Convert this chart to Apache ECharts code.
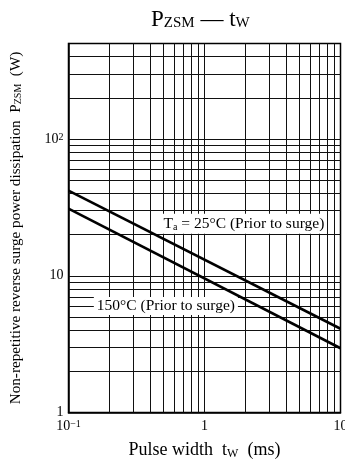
<!DOCTYPE html>
<html><head><meta charset="utf-8">
<script src="https://cdn.jsdelivr.net/npm/echarts@6/dist/echarts.min.js"></script>
<style>html,body{margin:0;padding:0;background:#fff}#c{width:345px;height:466px}</style>
</head><body><div id="c"></div>
<script>
// ---- data ----
const pulseWidth = [0.1, 10];            // ms
const psm25 = [42, 4.1];                 // W, Ta = 25°C
const psm150 = [31, 2.95];               // W, 150°C
const xGridValues = [0.2,0.3,0.4,0.5,0.6,0.7,0.8,0.9,1,2,3,4,5,6,7,8,9];
const yGridValues = [2,3,4,5,6,7,8,9,10,20,30,40,50,60,70,80,90,100,200,300,400];
const xTickLabels = {"0.1":"10{sup|−1}","1":"1","10":"10"};
const yTickLabels = {"1":"1","10":"10","100":"10{sup|2}"};

const FONT = 'Liberation Serif';
const chart = echarts.init(document.getElementById('c'));

function keyOf(v){
  const e = Math.log10(v);
  if (Math.abs(e - Math.round(e)) > 1e-6) return null;
  return String(Math.pow(10, Math.round(e)) >= 1 ? Math.pow(10, Math.round(e)) : 0.1);
}
const supRich = {sup:{fontSize:10, verticalAlign:'top', lineHeight:10, fontFamily:FONT, color:'#000', padding:[0,0,6,0]}};
const subStyle = (fs, pad)=>({fontSize:fs, fontFamily:FONT, color:'#000', verticalAlign:'bottom', lineHeight:fs, padding:[pad,0,0,0]});

const gridLineStyle = {color:'#111', width:1, type:'solid'};

chart.setOption({
  animation:false,
  backgroundColor:'#fff',
  title:{
    left:146, top:1,
    text:'{p|P}{s|ZSM}{p| — t}{s|W}',
    textStyle:{fontWeight:'normal', rich:{
      p:{fontSize:23, fontFamily:FONT, color:'#000', lineHeight:28, fontWeight:'normal'},
      s:{fontSize:15, fontFamily:FONT, color:'#000', lineHeight:15, padding:[7,0,0,0], fontWeight:'normal'}
    }}
  },
  grid:{left:68.5, right:4.5, top:43.5, bottom:53.5, show:true, borderColor:'#000', borderWidth:1.5, outerBoundsMode:'none', containLabel:false},
  xAxis:{
    type:'log', logBase:10, min:0.1, max:10,
    axisLine:{show:true, lineStyle:{color:'#000', width:1.5}},
    axisTick:{show:false}, splitLine:{show:false}, minorSplitLine:{show:false},
    axisLabel:{
      margin:7, color:'#000', fontFamily:FONT, fontSize:14,
      formatter:(v)=>{const k=keyOf(v); return k && xTickLabels[k] ? xTickLabels[k] : '';},
      rich:{sup:supRich.sup}
    },
    name:'Pulse width  t{s|W}  (ms)', nameLocation:'middle', nameGap:29,
    nameTextStyle:{color:'#000', fontFamily:FONT, fontSize:18, rich:{s:subStyle(12,5)}}
  },
  yAxis:{
    type:'log', logBase:10, min:1, max:500,
    axisLine:{show:true, lineStyle:{color:'#000', width:1.5}},
    axisTick:{show:false}, splitLine:{show:false}, minorSplitLine:{show:false},
    axisLabel:{
      margin:5, color:'#000', fontFamily:FONT, fontSize:14, showMaxLabel:false,
      formatter:(v)=>{const k=keyOf(v); return k && yTickLabels[k] ? yTickLabels[k] : '';},
      rich:{sup:supRich.sup}
    },
    name:'Non-repetitive reverse surge power dissipation  P{s|ZSM}  (W)', nameLocation:'middle', nameGap:45,
    nameTextStyle:{color:'#000', fontFamily:FONT, fontSize:15.2, rich:{s:subStyle(10,4)}}
  },
  series:[
    {
      type:'line', data:[], silent:true,
      markLine:{
        silent:true, symbol:'none', label:{show:false}, lineStyle:gridLineStyle, animation:false,
        data: xGridValues.map(v=>({xAxis:v})).concat(yGridValues.map(v=>({yAxis:v})))
      }
    },
    {
      type:'line', name:'25', showSymbol:false, symbol:'none',
      data: pulseWidth.map((t,i)=>[t, psm25[i]]),
      lineStyle:{color:'#000', width:2.6}, z:5,
      markPoint:{
        symbol:'rect', symbolSize:0, silent:true,
        data:[{coord:[1.95, 24]}],
        label:{show:true, position:'inside', backgroundColor:'#fff', padding:[1,2,1,2],
          formatter:'{n|T}{s|a}{n| = 25°C (Prior to surge)}',
          rich:{n:{fontSize:15.5, fontFamily:FONT, color:'#000', lineHeight:18}, s:subStyle(10,5)}}
      }
    },
    {
      type:'line', name:'150', showSymbol:false, symbol:'none',
      data: pulseWidth.map((t,i)=>[t, psm150[i]]),
      lineStyle:{color:'#000', width:2.6}, z:5,
      markPoint:{
        symbol:'rect', symbolSize:0, silent:true,
        data:[{coord:[0.52, 6]}],
        label:{show:true, position:'inside', backgroundColor:'#fff', padding:[1,3,1,3],
          formatter:'150°C (Prior to surge)', fontSize:15.5, fontFamily:FONT, color:'#000'}
      }
    }
  ]
});
</script></body></html>
